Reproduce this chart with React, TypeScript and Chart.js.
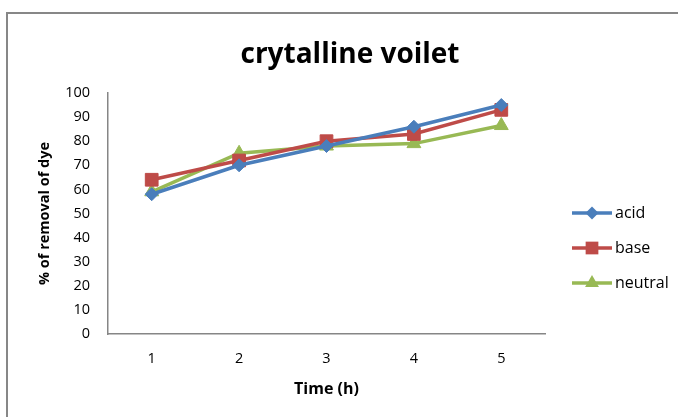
import React, { useEffect, useRef } from 'react';
import { Chart, registerables } from 'chart.js';

Chart.register(...registerables);

const categories = ['1', '2', '3', '4', '5'];
const acid = [58, 70, 78, 86, 95];
const base = [64, 72, 80, 83, 93];
const neutral = [59, 75, 78, 79, 86.5];
const seriesNames = ['acid', 'base', 'neutral'];
const seriesColors = ['#4A7EBB', '#BE4B48', '#98B954'];
const seriesMarkers = ['rectRot', 'rect', 'triangle'];
const markerRadii = [6.5, 9, 8];
const chartTitle = 'crytalline voilet';
const xTitle = 'Time (h)';
const yTitle = '% of removal of dye';
const yMin = 0;
const yMax = 100;
const yStep = 10;

const FONT = '"Open Sans", Lato, sans-serif';

function drawMarker(ctx: CanvasRenderingContext2D, style: string, x: number, y: number, r: number, color: string) {
  ctx.save();
  ctx.fillStyle = color;
  ctx.beginPath();
  if (style === 'rectRot') {
    ctx.moveTo(x, y - r);
    ctx.lineTo(x + r, y);
    ctx.lineTo(x, y + r);
    ctx.lineTo(x - r, y);
  } else if (style === 'rect') {
    const s = r * Math.SQRT1_2;
    ctx.rect(x - s, y - s, 2 * s, 2 * s);
  } else {
    const h = Math.sin(Math.PI / 3) * r;
    ctx.moveTo(x, y - r);
    ctx.lineTo(x + h, y + r / 2);
    ctx.lineTo(x - h, y + r / 2);
  }
  ctx.closePath();
  ctx.fill();
  ctx.restore();
}

const decorPlugin = {
  id: 'decor',
  afterDraw(chart: any) {
    const ctx: CanvasRenderingContext2D = chart.ctx;
    ctx.save();
    // title
    ctx.fillStyle = '#000';
    ctx.font = `bold 28px ${FONT}`;
    ctx.textAlign = 'center';
    ctx.textBaseline = 'alphabetic';
    ctx.fillText(chartTitle, 350, 63);
    // legend
    const lx0 = 572;
    const lx1 = 612;
    const ys = [213, 248, 283];
    seriesNames.forEach((name, i) => {
      const y = ys[i];
      ctx.strokeStyle = seriesColors[i];
      ctx.lineWidth = 3.5;
      ctx.beginPath();
      ctx.moveTo(lx0, y);
      ctx.lineTo(lx1, y);
      ctx.stroke();
      drawMarker(ctx, seriesMarkers[i], (lx0 + lx1) / 2, y, markerRadii[i], seriesColors[i]);
      ctx.fillStyle = '#000';
      ctx.font = `16px ${FONT}`;
      ctx.textAlign = 'left';
      ctx.textBaseline = 'middle';
      ctx.fillText(name, 615, y);
    });
    ctx.restore();
  },
};

export default function App() {
  const ref = useRef<HTMLCanvasElement>(null);
  useEffect(() => {
    if (!ref.current) return;
    const seriesData = [acid, base, neutral];
    const chart = new Chart(ref.current, {
      type: 'line',
      data: {
        labels: categories,
        datasets: seriesNames.map((name, i) => ({
          label: name,
          data: seriesData[i],
          borderColor: seriesColors[i],
          backgroundColor: seriesColors[i],
          pointBackgroundColor: seriesColors[i],
          pointBorderColor: seriesColors[i],
          pointStyle: seriesMarkers[i] as any,
          pointRadius: markerRadii[i],
          pointBorderWidth: 1,
          borderWidth: 3.5,
          tension: 0,
          fill: false,
        })),
      },
      options: {
        responsive: false,
        animation: false,
        layout: { padding: { top: 93, right: 133, left: 0, bottom: 0 } },
        plugins: {
          legend: { display: false },
          title: { display: false },
          tooltip: { enabled: false },
        },
        scales: {
          x: {
            offset: true,
            grid: { display: false, drawTicks: false },
            border: { display: true, color: '#868686', width: 1.5 },
            ticks: { color: '#000', font: { family: FONT, size: 14.5 }, padding: 16 },
            title: {
              display: true,
              text: xTitle,
              color: '#000',
              font: { family: FONT, size: 16, weight: 'bold' },
              padding: { top: 0, bottom: 18 },
            },
            afterFit: (s: any) => {
              s.height = 83;
            },
          },
          y: {
            min: yMin,
            max: yMax,
            grid: { display: false, drawTicks: false },
            border: { display: true, color: '#868686', width: 1.5 },
            ticks: { stepSize: yStep, color: '#000', font: { family: FONT, size: 14.5 }, padding: 18 },
            title: {
              display: true,
              text: yTitle,
              color: '#000',
              font: { family: FONT, size: 14.5, weight: 'bold' },
              padding: { top: 36, bottom: 0 },
            },
            afterFit: (s: any) => {
              s.width = 108;
            },
          },
        },
      },
      plugins: [decorPlugin],
    });
    return () => chart.destroy();
  }, []);

  return (
    <div style={{ position: 'fixed', left: 0, top: 0, width: 678, height: 417, overflow: 'hidden', background: '#fff' }}>
      <div
        style={{
          position: 'absolute',
          left: 6,
          top: 12,
          width: 700,
          height: 440,
          border: '2px solid #878787',
          boxSizing: 'border-box',
        }}
      />
      <canvas ref={ref} width={678} height={417} style={{ position: 'absolute', left: 0, top: 0 }} />
    </div>
  );
}
